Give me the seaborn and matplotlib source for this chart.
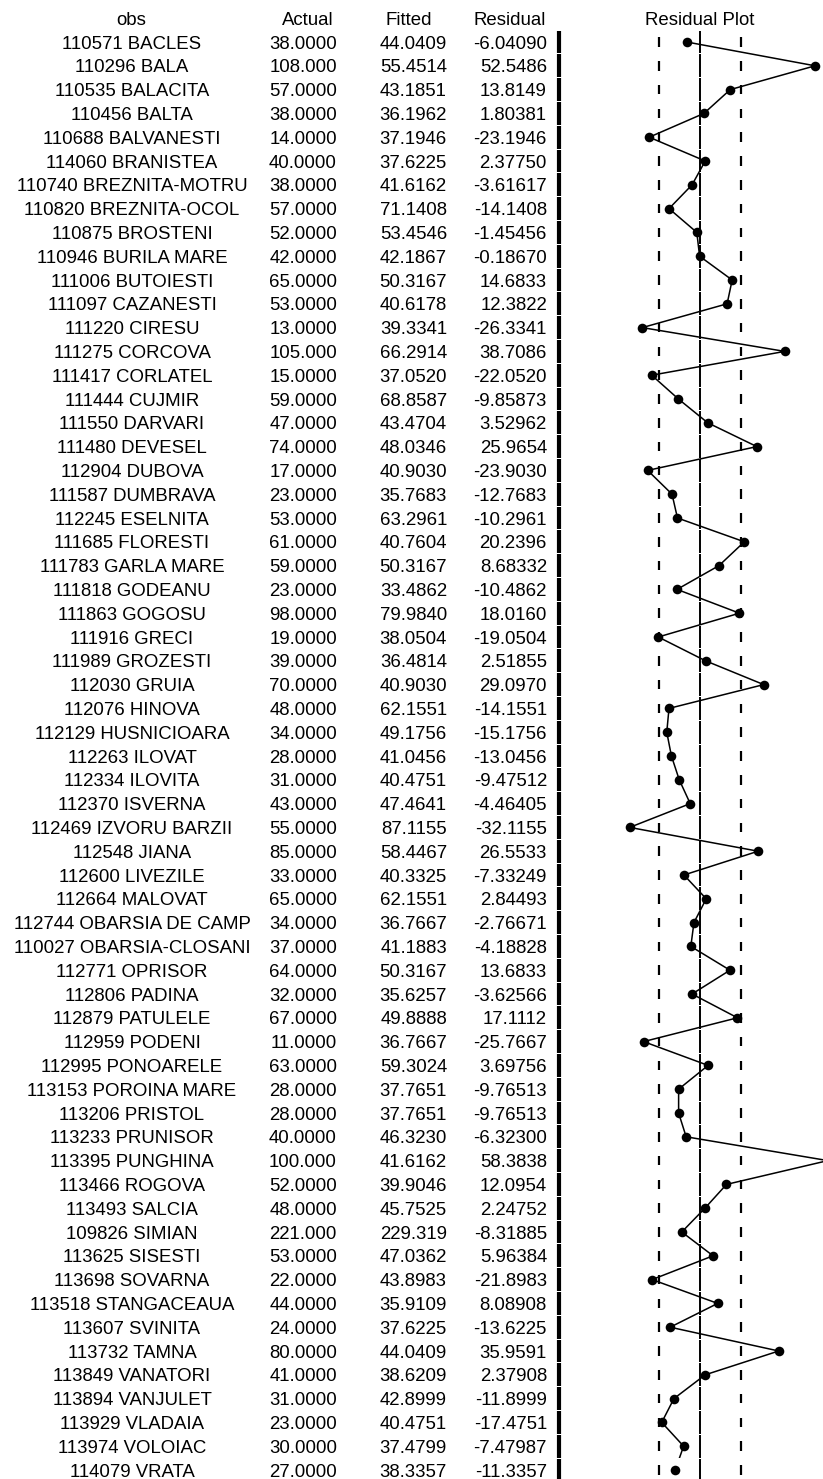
import matplotlib
matplotlib.use("Agg")
import matplotlib.pyplot as plt
from matplotlib.patches import Rectangle
import numpy as np
import pandas as pd
import seaborn as sns

sns.set_theme(style="white")
plt.rcParams["font.family"] = ["Liberation Sans", "DejaVu Sans"]

# Observation labels (code + locality)
obs = [
    "110571 BACLES", "110296 BALA", "110535 BALACITA", "110456 BALTA",
    "110688 BALVANESTI", "114060 BRANISTEA", "110740 BREZNITA-MOTRU",
    "110820 BREZNITA-OCOL", "110875 BROSTENI", "110946 BURILA MARE",
    "111006 BUTOIESTI", "111097 CAZANESTI", "111220 CIRESU", "111275 CORCOVA",
    "111417 CORLATEL", "111444 CUJMIR", "111550 DARVARI", "111480 DEVESEL",
    "112904 DUBOVA", "111587 DUMBRAVA", "112245 ESELNITA", "111685 FLORESTI",
    "111783 GARLA MARE", "111818 GODEANU", "111863 GOGOSU", "111916 GRECI",
    "111989 GROZESTI", "112030 GRUIA", "112076 HINOVA", "112129 HUSNICIOARA",
    "112263 ILOVAT", "112334 ILOVITA", "112370 ISVERNA", "112469 IZVORU BARZII",
    "112548 JIANA", "112600 LIVEZILE", "112664 MALOVAT", "112744 OBARSIA DE CAMP",
    "110027 OBARSIA-CLOSANI", "112771 OPRISOR", "112806 PADINA", "112879 PATULELE",
    "112959 PODENI", "112995 PONOARELE", "113153 POROINA MARE", "113206 PRISTOL",
    "113233 PRUNISOR", "113395 PUNGHINA", "113466 ROGOVA", "113493 SALCIA",
    "109826 SIMIAN", "113625 SISESTI", "113698 SOVARNA", "113518 STANGACEAUA",
    "113607 SVINITA", "113732 TAMNA", "113849 VANATORI", "113894 VANJULET",
    "113929 VLADAIA", "113974 VOLOIAC", "114079 VRATA",
]

actual = [
    38, 108, 57, 38, 14, 40, 38, 57, 52, 42,
    65, 53, 13, 105, 15, 59, 47, 74, 17, 23,
    53, 61, 59, 23, 98, 19, 39, 70, 48, 34,
    28, 31, 43, 55, 85, 33, 65, 34, 37, 64,
    32, 67, 11, 63, 28, 28, 40, 100, 52, 48,
    221, 53, 22, 44, 24, 80, 41, 31, 23, 30,
    27,
]

fitted = [
    44.0409, 55.4514, 43.1851, 36.1962, 37.1946, 37.6225, 41.6162, 71.1408, 53.4546, 42.1867,
    50.3167, 40.6178, 39.3341, 66.2914, 37.0520, 68.8587, 43.4704, 48.0346, 40.9030, 35.7683,
    63.2961, 40.7604, 50.3167, 33.4862, 79.9840, 38.0504, 36.4814, 40.9030, 62.1551, 49.1756,
    41.0456, 40.4751, 47.4641, 87.1155, 58.4467, 40.3325, 62.1551, 36.7667, 41.1883, 50.3167,
    35.6257, 49.8888, 36.7667, 59.3024, 37.7651, 37.7651, 46.3230, 41.6162, 39.9046, 45.7525,
    229.319, 47.0362, 43.8983, 35.9109, 37.6225, 44.0409, 38.6209, 42.8999, 40.4751, 37.4799,
    38.3357,
]

residual = [
    -6.04090, 52.5486, 13.8149, 1.80381, -23.1946, 2.37750, -3.61617, -14.1408, -1.45456, -0.18670,
    14.6833, 12.3822, -26.3341, 38.7086, -22.0520, -9.85873, 3.52962, 25.9654, -23.9030, -12.7683,
    -10.2961, 20.2396, 8.68332, -10.4862, 18.0160, -19.0504, 2.51855, 29.0970, -14.1551, -15.1756,
    -13.0456, -9.47512, -4.46405, -32.1155, 26.5533, -7.33249, 2.84493, -2.76671, -4.18828, 13.6833,
    -3.62566, 17.1112, -25.7667, 3.69756, -9.76513, -9.76513, -6.32300, 58.3838, 12.0954, 2.24752,
    -8.31885, 5.96384, -21.8983, 8.08908, -13.6225, 35.9591, 2.37908, -11.8999, -17.4751, -7.47987,
    -11.3357,
]

headers = ["obs", "Actual", "Fitted", "Residual"]
se_band = 18.8  # standard error of regression, drawn as dashed guides


def fmt6(v):
    """Six-digit display used by the residual table."""
    whole = len(str(int(abs(v)))) if abs(v) >= 1 else 1
    return f"{v:.{max(6 - whole, 0)}f}"


df = pd.DataFrame({"obs": obs, "actual": actual, "fitted": fitted, "residual": residual})
df["row"] = np.arange(len(df))
n = len(df)

W, H = 823, 1479
fig = plt.figure(figsize=(W / 100, H / 100), dpi=100)
fig.patch.set_facecolor("white")

# Vertical layout in row units: row 0 centred 42 px from top, 23.8 px per row
row_h = 23.8
y_top = -42 / row_h
y_bot = (H - 42) / row_h

# ---- table panel ----
tab = fig.add_axes([0, 0, 1, 1])
tab.set_xlim(0, W)
tab.set_ylim(y_bot, y_top)
tab.axis("off")

fs = 13.4
txt_kw = dict(fontsize=fs, color="black", va="center_baseline")
hdr_x = [131, 308, 409, 510]
for hx, h in zip(hdr_x, headers):
    tab.text(hx, -1, h, ha="center", **txt_kw)

for r in df.itertuples():
    tab.text(132, r.row, r.obs, ha="center", **txt_kw)
    tab.text(337, r.row, fmt6(r.actual), ha="right", **txt_kw)
    tab.text(447, r.row, fmt6(r.fitted), ha="right", **txt_kw)
    tab.text(547, r.row, fmt6(r.residual), ha="right", **txt_kw)

# heavy separator between the table and the plot
tab.vlines(np.full(n, 559), df["row"] - 0.48, df["row"] + 0.48, color="black", lw=3)

# ---- residual plot panel ----
left = 577
ax = fig.add_axes([left / W, 0, (W - left) / W, 1])
half = (W - 700) / 2.19
ax.set_xlim(-half, half)
ax.set_ylim(y_bot, y_top)
ax.axis("off")
ax.patch.set_alpha(0)

ax.text(0, -1, "Residual Plot", ha="center", **txt_kw)

ax.vlines(np.zeros(n), df["row"] - 0.48, df["row"] + 0.48, color="black", lw=1.4)
for s in (-se_band, se_band):
    ax.vlines(np.full(n, s), df["row"] - 0.2, df["row"] + 0.2, color="black", lw=1.6)

sns.lineplot(data=df, x="residual", y="row", sort=False, estimator=None,
             color="black", lw=1.1, ax=ax, legend=False)
clip = Rectangle((-100, y_top), 200, (n - 1.5) - y_top, transform=ax.transData)
for ln in ax.lines:
    ln.set_clip_path(clip)
sns.scatterplot(data=df, x="residual", y="row", color="black", s=48,
                edgecolor="black", linewidth=0, ax=ax, legend=False, zorder=5)

fig.savefig("out.png", dpi=100, facecolor="white")
